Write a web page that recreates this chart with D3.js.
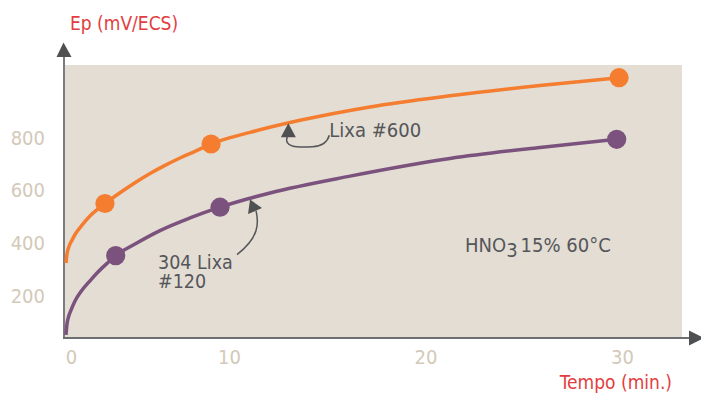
<!DOCTYPE html>
<html>
<head>
<meta charset="utf-8">
<script src="https://cdn.jsdelivr.net/npm/d3@7"></script>
<style>
  html, body { margin: 0; padding: 0; background: #ffffff; }
  svg { display: block; }
  .lbl { font-family: "Liberation Sans Narrow", "DejaVu Sans Condensed", "Roboto", sans-serif; }
</style>
</head>
<body>
<svg id="chart" width="701" height="394"></svg>
<script>
// Potential (mV/ECS) versus time (min) for two surface finishes in HNO3 15% at 60 °C
const yTicks = [200, 400, 600, 800];
const xTicks = [0, 10, 20, 30];

// measured points
const lixa600Time = [2.39, 8.9, 29.85];
const lixa600Ep   = [550, 776, 1028];
const lixa120Time = [3.05, 9.45, 29.73];
const lixa120Ep   = [352, 536, 794];

// trend curves (time, Ep)
const lixa600CurveTime = [0, 0.061, 0.184, 0.368, 0.613, 0.982, 1.411, 1.84, 2.39, 3.313, 4.233, 5.153, 6.074, 6.994, 7.914, 8.9, 11.069, 13.613, 17.176, 21.247, 25.827, 29.85];
const lixa600CurveEp   = [324, 358, 387, 411, 438, 468, 499, 523, 550, 591, 629, 664, 695, 723, 748, 776, 820, 866, 917, 959, 998, 1028];
const lixa120CurveTime = [0, 0.061, 0.153, 0.307, 0.552, 0.92, 1.411, 1.963, 2.577, 3.05, 4.233, 5.767, 7.607, 9.45, 12.087, 16.158, 21.247, 25.827, 29.73];
const lixa120CurveEp   = [51, 92, 119, 145, 180, 216, 252, 290, 326, 352, 396, 447, 495, 536, 590, 654, 721, 763, 794];

const svg = d3.select("#chart");

const plot = { left: 65, top: 65, right: 682, bottom: 337 };
const axisX = 64, axisY = 338;

const x = d3.scaleLinear().domain([0, 10, 30]).range([66, 229, 622]);
const y = d3.scaleLinear().domain([0, 1000]).range([348.3, 85.05]);

// plot background
svg.append("rect")
  .attr("x", plot.left).attr("y", plot.top)
  .attr("width", plot.right - plot.left).attr("height", plot.bottom - plot.top)
  .attr("fill", "#e3ddd3");

// axis lines with arrow heads
const axisColor = "#6d6e71";
svg.append("line").attr("x1", axisX).attr("y1", 55).attr("x2", axisX).attr("y2", axisY + 1)
  .attr("stroke", axisColor).attr("stroke-width", 1.8);
svg.append("line").attr("x1", axisX - 1).attr("y1", axisY).attr("x2", 692).attr("y2", axisY)
  .attr("stroke", axisColor).attr("stroke-width", 1.8);
svg.append("path").attr("d", `M${axisX - 0.5},42.5 L${axisX + 7.5},57 L${axisX - 7.5},57 Z`).attr("fill", "#4f5052");
svg.append("path").attr("d", `M704,${axisY} L689,${axisY - 7.5} L689,${axisY + 7.5} Z`).attr("fill", "#4f5052");

// tick labels
const tickColor = "#d3c9b8";
const gy = svg.append("g").attr("transform", "translate(48,0)")
  .call(d3.axisLeft(y).tickValues(yTicks).tickSize(0).tickPadding(3));
gy.select(".domain").remove();
gy.selectAll("text").attr("class", "lbl").attr("font-size", 20).attr("fill", tickColor).attr("font-family", null);

const gx = svg.append("g").attr("transform", `translate(0,${axisY})`)
  .call(d3.axisBottom(x).tickValues(xTicks).tickSize(0).tickPadding(12));
gx.select(".domain").remove();
gx.selectAll("text").attr("class", "lbl").attr("font-size", 20).attr("fill", tickColor).attr("font-family", null);
gx.selectAll(".tick").filter(d => d === 0).select("text").attr("dx", 5);

// axis titles
svg.append("text").attr("class", "lbl").attr("x", 70).attr("y", 30)
  .attr("font-size", 19).attr("fill", "#e23d40").text("Ep (mV/ECS)");
svg.append("text").attr("class", "lbl").attr("x", 672).attr("y", 389).attr("text-anchor", "end")
  .attr("font-size", 19).attr("fill", "#e23d40").text("Tempo (min.)");

// trend curves and measured points
const line = d3.line().x(d => x(d[0])).y(d => y(d[1])).curve(d3.curveMonotoneX);
const series = [
  { t: lixa600CurveTime, v: lixa600CurveEp, pt: lixa600Time, pv: lixa600Ep, color: "#f47d30" },
  { t: lixa120CurveTime, v: lixa120CurveEp, pt: lixa120Time, pv: lixa120Ep, color: "#7a527d" }
];
series.forEach(s => {
  svg.append("path")
    .datum(s.t.map((t, i) => [t, s.v[i]]))
    .attr("d", line).attr("fill", "none")
    .attr("stroke", s.color).attr("stroke-width", 3.5);
  svg.selectAll(null)
    .data(s.pt.map((t, i) => [t, s.pv[i]]))
    .join("circle")
    .attr("cx", d => x(d[0])).attr("cy", d => y(d[1])).attr("r", 9.6)
    .attr("fill", s.color);
});

// annotations
const annColor = "#55565a";
// Lixa #600
{
  const ax = x(13.02), ay = y(855);
  svg.append("path").attr("d", `M${ax},${ay} L${ax + 7.5},${ay + 14} L${ax - 7.5},${ay + 14} Z`).attr("fill", "#4f5052");
  svg.append("path")
    .attr("d", `M${ax - 1},${ay + 13} C${ax - 5},${ay + 24} ${ax + 8},${ay + 24.5} ${ax + 24},${ay + 23.5} C${ax + 34},${ay + 23} ${ax + 39},${ay + 19} ${ax + 41},${ay + 12}`)
    .attr("fill", "none").attr("stroke", annColor).attr("stroke-width", 1.5);
  svg.append("text").attr("class", "lbl").attr("x", ax + 41).attr("y", ay + 13.5)
    .attr("font-size", 20).attr("fill", annColor).text("Lixa #600");
}
// 304 Lixa #120
{
  const ax = x(11.07), ay = y(565);
  svg.append("path").attr("d", `M${ax},${ay} L${ax + 12},${ay + 8.5} L${ax - 2},${ay + 14.5} Z`).attr("fill", "#4f5052");
  svg.append("path")
    .attr("d", `M${ax + 6},${ay + 11} C${ax + 9},${ay + 24} ${ax + 9},${ay + 38} ${ax - 13},${ay + 55}`)
    .attr("fill", "none").attr("stroke", annColor).attr("stroke-width", 1.5);
  const t = svg.append("text").attr("class", "lbl").attr("x", 158).attr("y", 269)
    .attr("font-size", 19.5).attr("fill", annColor);
  t.append("tspan").attr("x", 158).text("304 Lixa");
  t.append("tspan").attr("x", 158).attr("dy", 18.5).text("#120");
}
// test conditions
{
  const t = svg.append("text").attr("class", "lbl").attr("x", 465).attr("y", 252)
    .attr("font-size", 20).attr("fill", annColor);
  t.append("tspan").text("HNO");
  t.append("tspan").attr("dy", 5).text("3");
  t.append("tspan").attr("dy", -5).attr("dx", 3).text("15% 60°C");
}
</script>
</body>
</html>
